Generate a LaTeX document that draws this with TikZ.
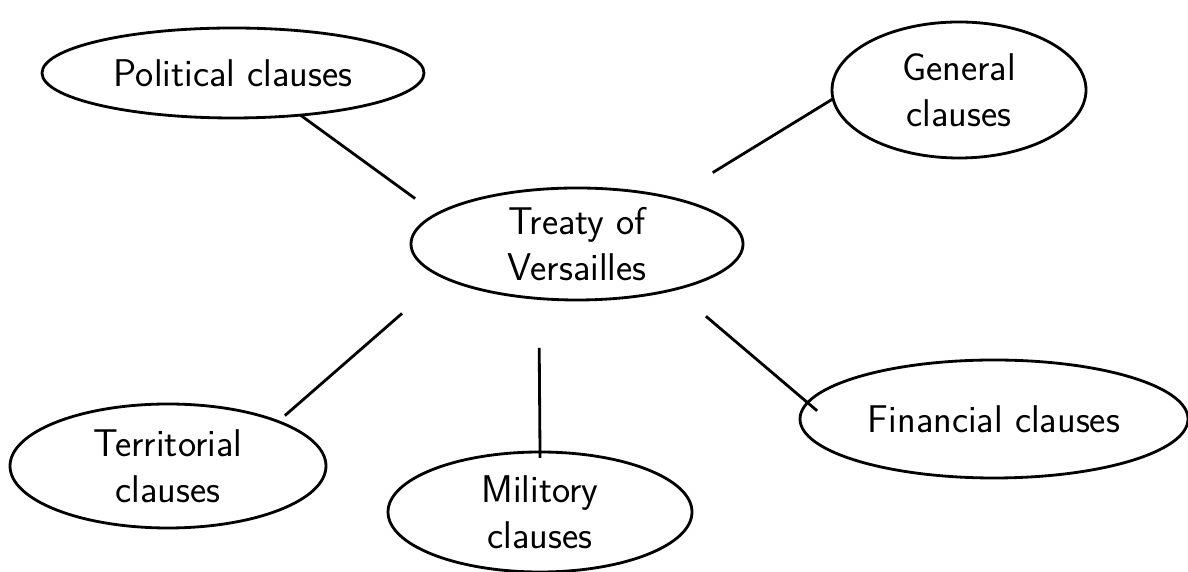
\documentclass[tikz,border=0pt]{standalone}
\usepackage{tikz}
\usetikzlibrary{shapes.geometric}
\tikzstyle{clause} = [ellipse, draw=black, line width=1.6pt, inner sep=0pt, outer sep=0pt, align=center, font=\sffamily\fontsize{22}{26}\selectfont]
\tikzstyle{link} = [line width=1.6pt]

\begin{document}
\begin{tikzpicture}
\useasboundingbox (0,0) rectangle (23.76,11.44);
	\node (treaty) [clause, minimum width=6.64cm, minimum height=2.24cm] at (11.54,6.56) {Treaty of\\Versailles};
	\node (pol) [clause, minimum width=7.64cm, minimum height=1.80cm] at (4.66,9.98) {Political clauses};
	\node (gen) [clause, minimum width=5.08cm, minimum height=2.72cm] at (19.18,9.64) {General\\clauses};
	\node (fin) [clause, minimum width=7.76cm, minimum height=2.36cm] at (19.88,3.06) {Financial clauses};
	\node (terr) [clause, minimum width=6.32cm, minimum height=2.48cm] at (3.36,2.12) {Territorial\\clauses};
	\node (mil) [clause, minimum width=6.08cm, minimum height=2.40cm] at (10.80,1.20) {Militory\\clauses};
\draw [link, shorten <=0.53cm] (treaty.168) -- (pol.-32);
\draw [link, shorten <=0.97cm] (treaty.26) -- (gen.184);
\draw [link, shorten <=1.1cm, shorten >=0.18cm] (treaty.194) -- (terr.22);
\draw [link, shorten <=0.99cm, shorten >=-0.12cm] (treaty.235) -- (mil.north);
\draw [link, shorten <=0.83cm, shorten >=-0.25cm] (treaty.335) -- (fin.175);
\end{tikzpicture}
\end{document}
